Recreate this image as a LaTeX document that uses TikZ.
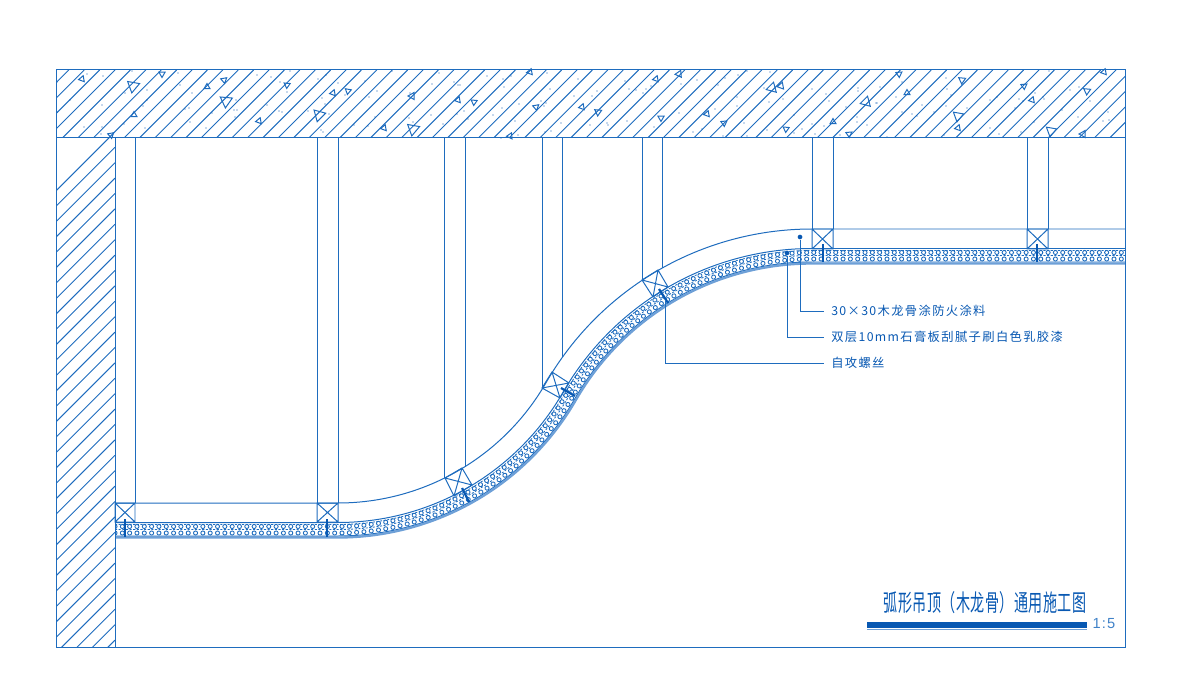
\documentclass[tikz,border=0pt]{standalone}
\usepackage{fontspec}
\setmainfont{Noto Sans CJK SC}
\newfontfamily\digitfont{Liberation Sans}
\usetikzlibrary{decorations.markings}

\definecolor{cadblue}{RGB}{30,108,190}
\definecolor{cadpale}{RGB}{110,160,215}
\definecolor{caddark}{RGB}{8,88,178}

\tikzset{
	cadline/.style={draw=cadblue,line width=0.85pt},
	hatchline/.style={draw=cadblue,line width=0.8pt},
	dotline/.style={draw=cadblue,line width=0.7pt,dash pattern=on 1.8pt off 1.3pt},
	screwline/.style={draw=caddark,line width=1.9pt},
	grainrow/.style={postaction={decorate},decoration={markings,
		mark=between positions 0 and 1 step 6.25pt with {\draw[cadblue,line width=0.75pt] (0,0) circle [radius=1.75pt];}}},
	leaderdot/.style={circle,fill=caddark,inner sep=0pt,minimum size=4pt},
	notetext/.style={anchor=west,inner xsep=6pt,inner ysep=0pt,text=caddark,
		font=\fontsize{10.5}{12}\selectfont\addfontfeature{LetterSpace=11}},
}

% path along the ceiling at a distance #1 below the top of the battens
\newcommand{\archline}[1]{(115,{503+#1}) -- (338,{503+#1}) arc (90:29.94:{240+#1}) arc (209.94:270:{307-#1}) -- (1125,{229+#1})}
\newcommand{\battenbox}[4]{\draw[cadline] (#1) -- (#2) -- (#3) -- (#4) -- cycle (#1) -- (#3) (#2) -- (#4);}

\begin{document}
\begin{tikzpicture}[x=0.03cm,y=-0.03cm]
	\useasboundingbox (0,0) rectangle (1182,682);

	% slab
	\begin{scope}
		\clip (56,70) rectangle (1125,138);
		\foreach \i in {0,...,74}
			\draw[hatchline] ({-14.6+15.4*\i},138) -- ({53.4+15.4*\i},70);
	\end{scope}
	\foreach \x/\y/\r/\a in {82/79/3.5/170,133/86/7/100,162/74/3.5/90,207/87/3.5/30,224/80/3.5/80,226/101/7/95,287/85/3.5/95,333/93/3.5/170,348/91/3.5/100,319/115/7/105,259/121/3.5/170,134/115/3.5/30,111/135/3.5/80,
		412/96/4/60,458/100/3.5/170,474/102/3.5/95,413/129/7/100,384/128/3.5/170,510/136/3.5/175,536/107/3.5/80,582/107/3.5/170,598/112/4/95,530/72/3.5/170,
		656/79/3.5/170,679/74/4/175,772/88/6/165,781/86/4/170,866/102/6/165,707/114/3.5/170,661/118/3.5/90,724/123/3.5/85,786/129/3.5/95,833/122/3.5/30,849/134/3.5/85,
		899/74/3.5/85,907/93/3.5/30,962/80/4/95,1024/86/3.5/85,1032/100/3.5/170,1087/91/4/95,1104/72/3.5/170,958/116/6/100,958/128/3.5/170,1051/131/6/100,1083/134/4/60}
		\draw[cadline] ({\x+\r*cos(\a)},{\y+\r*sin(\a)}) -- ({\x+\r*cos(\a+120)},{\y+\r*sin(\a+120)}) -- ({\x+\r*cos(\a+240)},{\y+\r*sin(\a+240)}) -- cycle;
	\foreach \x/\y in {87/74,103/76,57/82,125/93,147/90,147/100,143/106,102/105,57/112,102/127,84/127,101/134,124/124,145/128,180/85,178/73,192/93,185/109,189/108,212/113,190/122,206/128,236/100,234/110,237/110,235/117,257/75,271/77,280/82,287/92,267/105,279/111,282/112,308/111,318/79,326/75,322/98,325/104,329/114,321/130,323/132,338/83,345/95,70/100,132/71,290/71,
		392/71,365/81,377/91,369/97,410/93,432/84,439/73,454/82,458/85,460/85,487/76,503/79,511/76,504/87,547/73,550/89,578/79,574/96,592/96,597/91,541/101,544/106,546/103,519/104,502/108,493/115,515/121,457/114,464/111,468/119,431/115,409/118,413/122,443/124,375/117,354/125,368/126,518/135,501/138,561/123,545/132,551/131,590/125,607/123,608/125,
		625/81,629/89,636/90,646/89,651/86,643/93,681/84,697/80,718/85,725/78,738/75,747/71,770/72,764/88,769/102,783/99,812/89,826/94,829/101,858/88,858/91,846/107,877/103,737/97,737/106,715/109,679/113,627/121,654/127,693/132,702/129,723/136,744/123,747/136,767/130,794/115,802/129,812/124,815/134,794/133,824/126,840/135,857/117,857/122,867/125,
		902/82,880/87,896/97,876/103,902/112,912/114,917/116,922/105,934/112,946/78,947/89,951/95,946/106,967/108,997/97,990/100,1019/99,1023/101,1035/93,1043/97,1044/99,1015/108,1034/122,1070/90,1079/87,1090/101,1062/110,1078/117,1108/112,1109/120,1103/121,990/128,999/134,1021/132,944/135,887/137,1049/71}
		\fill[caddark] (\x,\y) circle [radius=0.6];

	% wall
	\begin{scope}
		\clip (56,138) rectangle (115,647);
		\foreach \i in {0,...,37}
			\draw[hatchline] (115,{131.9+15.4*\i}) -- (56,{190.9+15.4*\i});
	\end{scope}

	% hangers
	\foreach \xa/\ya/\xb/\yb in {115/503/135/503,317/503/338/503,444/478/465/466,542/388/562/357,642/280/662/268,812/229/833/229,1027/229/1048/229}
		\draw[cadline] (\xa,138) -- (\xa,\ya) (\xb,138) -- (\xb,\yb);

	% battens
	\draw[cadline] \archline{0};
	\battenbox{115,503}{135,503}{135,522}{115,522}
	\battenbox{317,503}{338,503}{338,522}{317,522}
	\battenbox{445,478}{462,468}{472,485}{454,496}
	\battenbox{542,388}{552,372}{569,383}{560,398}
	\battenbox{642,280}{658,270}{668,287}{653,297}
	\battenbox{812,229}{833,229}{833,249}{812,249}
	\battenbox{1027,229}{1048,229}{1048,249}{1027,249}

	% board
	\begin{scope}
		\clip (115,200) rectangle (1125,560);
		\draw[cadline] \archline{19.5};
		\draw[dotline] \archline{21.5};
		\draw[dotline] \archline{26.5};
		\draw[cadline] \archline{33};
		\draw[draw=cadpale,line width=2pt] \archline{34.5};
		\path[grainrow] \archline{23.5};
		\path[grainrow] \archline{30};
	\end{scope}

	% screws
	\foreach \xa/\ya/\xb/\yb in {125/519/125/537,327/519/327/537,462/488/469/502,561/388/575/396,659/289/668/303,823/244/823/262,1037/244/1037/262}
		\draw[screwline] (\xa,\ya) -- (\xb,\yb);

	% frame
	\draw[cadline] (56,70) rectangle (1125,647);
	\draw[cadline] (56,138) -- (1125,138);
	\draw[cadline] (115,138) -- (115,647);

	% notes
	\begin{scope}[every node/.style={notetext}]
		\node (noteA) at (824,311) {30×30木龙骨涂防火涂料};
		\node (noteB) at (824,337) {双层10mm石膏板刮腻子刷白色乳胶漆};
		\node (noteC) at (824,363) {自攻螺丝};
	\end{scope}
	\node[leaderdot] (dotA) at (800,237) {};
	\node[leaderdot] (dotB) at (787,253) {};
	\coordinate (screwC) at (665,300);
	\draw[cadline] (dotA) |- (noteA.west);
	\draw[cadline] (dotB) |- (noteB.west);
	\draw[cadline] (screwC) |- (noteC.west);

	% title
	\node[xscale=0.6,text=caddark,font=\fontsize{20}{22}\selectfont\addfontfeature{LetterSpace=3}] (title) at (985,603) {弧形吊顶（木龙骨）通用施工图};
	\fill[caddark] (867,622) rectangle (1087,628);
	\draw[cadpale,line width=1pt] (867,629.5) -- (1087,629.5);
	\node[text=cadblue!85,font=\digitfont\fontsize{12.5}{14}\selectfont\addfontfeature{LetterSpace=8}] (scale) at (1104,624) {1:5};
\end{tikzpicture}
\end{document}
